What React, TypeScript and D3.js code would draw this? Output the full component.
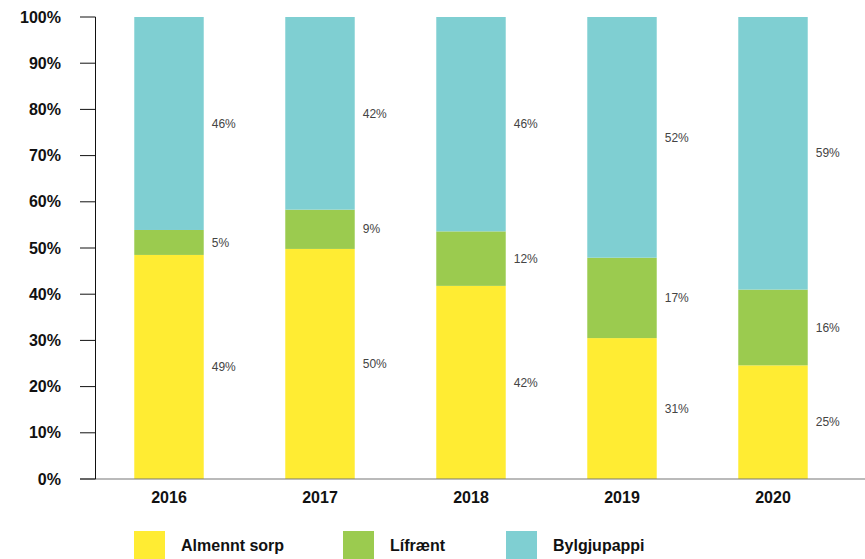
import React from "react";
import * as d3 from "d3";

const years = ["2016", "2017", "2018", "2019", "2020"];
const almenntSorp = [48.5, 49.8, 41.8, 30.5, 24.6];
const lifraent = [5.4, 8.5, 11.8, 17.4, 16.4];
const bylgjupappi = [46.1, 41.7, 46.4, 52.1, 59.0];
const seriesNames = ["Almennt sorp", "Lífrænt", "Bylgjupappi"];
const seriesColors = ["#FFEC33", "#9BCB4F", "#7FCFD2"];
const yTicks = [0, 10, 20, 30, 40, 50, 60, 70, 80, 90, 100];

const W = 865;
const H = 559;

export default function App() {
  const x = d3.scaleBand<string>().domain(years).range([93.5, 848.5]).paddingInner(0.54).paddingOuter(0.27);
  const y = d3.scaleLinear().domain([0, 100]).range([479, 17]);
  const rows = years.map((yr, i) => ({ year: yr, a: almenntSorp[i], b: lifraent[i], c: bylgjupappi[i] }));
  const stack = d3.stack<any>().keys(["a", "b", "c"])(rows);
  const font = "'Liberation Sans', Arial, Helvetica, sans-serif";
  const legendX = [134, 343, 506];

  return (
    <div style={{ position: "absolute", left: 0, top: 0 }}>
      <svg width={W} height={H} style={{ display: "block", fontFamily: font }}>
        {stack.map((s, si) => (
          <g key={si}>
            {s.map((d: any, i: number) => (
              <g key={i}>
                <rect
                  x={x(years[i])}
                  y={y(d[1])}
                  width={x.bandwidth()}
                  height={y(d[0]) - y(d[1])}
                  fill={seriesColors[si]}
                />
                <text
                  x={(x(years[i]) as number) + x.bandwidth() + 8}
                  y={(y(d[0]) + y(d[1])) / 2}
                  dy="0.35em"
                  fontSize={12}
                  fill="#444"
                >
                  {Math.round(d[1] - d[0])}%
                </text>
              </g>
            ))}
          </g>
        ))}
        <line x1={80} x2={865} y1={y(0)} y2={y(0)} stroke="#777" strokeWidth={1.2} />
        <line x1={95.5} x2={95.5} y1={y(100)} y2={y(0)} stroke="#111" strokeWidth={1} />
        {yTicks.map((t) => (
          <g key={t}>
            <line x1={80} x2={95.5} y1={y(t)} y2={y(t)} stroke="#111" strokeWidth={1} />
            <text x={61} y={y(t)} dy="0.35em" textAnchor="end" fontSize={16} fontWeight="bold" fill="#111">
              {t}%
            </text>
          </g>
        ))}
        {years.map((yr) => (
          <text
            key={yr}
            x={(x(yr) as number) + x.bandwidth() / 2}
            y={497}
            dy="0.35em"
            textAnchor="middle"
            fontSize={16}
            fontWeight="bold"
            fill="#111"
          >
            {yr}
          </text>
        ))}
        {seriesNames.map((n, i) => (
          <g key={n}>
            <rect x={legendX[i]} y={531} width={31} height={28} fill={seriesColors[i]} />
            <text x={legendX[i] + 47} y={545} dy="0.35em" fontSize={16} fontWeight="bold" fill="#111">
              {n}
            </text>
          </g>
        ))}
      </svg>
    </div>
  );
}
